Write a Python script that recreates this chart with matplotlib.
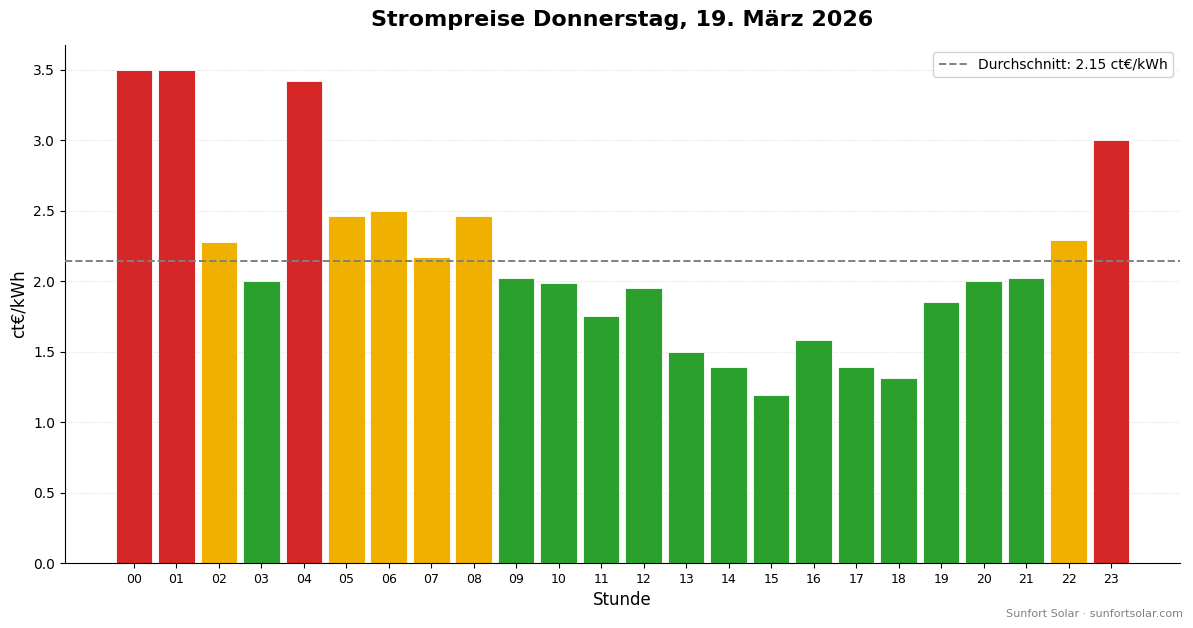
import matplotlib
matplotlib.use("Agg")
import matplotlib.pyplot as plt
import numpy as np

hours = [f"{h:02d}" for h in range(24)]
prices = [3.50, 3.50, 2.28, 2.00, 3.42, 2.46, 2.50, 2.17, 2.46, 2.02, 1.99, 1.75,
          1.95, 1.50, 1.39, 1.19, 1.58, 1.39, 1.31, 1.85, 2.00, 2.02, 2.29, 3.00]
levels = ["hoch", "hoch", "mittel", "niedrig", "hoch", "mittel", "mittel", "mittel",
          "mittel", "niedrig", "niedrig", "niedrig", "niedrig", "niedrig", "niedrig",
          "niedrig", "niedrig", "niedrig", "niedrig", "niedrig", "niedrig", "niedrig",
          "mittel", "hoch"]
level_colors = {"hoch": "#d62728", "mittel": "#f0b000", "niedrig": "#2ca02c"}

avg = float(np.mean(prices))

fig = plt.figure(figsize=(11.93, 6.28), dpi=100)
ax = fig.add_axes([0.0545, 0.1035, 0.9345, 0.8245])

x = np.arange(len(hours))
ax.bar(x, prices, width=0.86, color=[level_colors[l] for l in levels],
       edgecolor="white", linewidth=0.6, zorder=2)
ax.axhline(avg, color="gray", linestyle="--", linewidth=1.4,
           label=f"Durchschnitt: {avg:.2f} ct€/kWh", zorder=3)

ax.set_xticks(x)
ax.set_xticklabels(hours, fontsize=9)
ax.tick_params(axis="y", labelsize=10)
ax.set_xlim(-1.62, 24.62)
ax.set_ylim(0, 3.675)
ax.set_yticks(np.arange(0, 3.51, 0.5))
ax.yaxis.grid(True, linestyle=":", color="#dddddd", linewidth=0.8, zorder=0)
ax.set_axisbelow(True)
for s in ["top", "right"]:
    ax.spines[s].set_visible(False)

ax.set_xlabel("Stunde", fontsize=12)
ax.set_ylabel("ct€/kWh", fontsize=12)
ax.set_title("Strompreise Donnerstag, 19. März 2026", fontsize=16,
             fontweight="bold", pad=14)
ax.legend(loc="upper right", fontsize=10, framealpha=0.9)

fig.text(0.992, 0.015, "Sunfort Solar · sunfortsolar.com", ha="right",
         va="bottom", fontsize=8, color="gray")

fig.savefig("out.png", dpi=100)
